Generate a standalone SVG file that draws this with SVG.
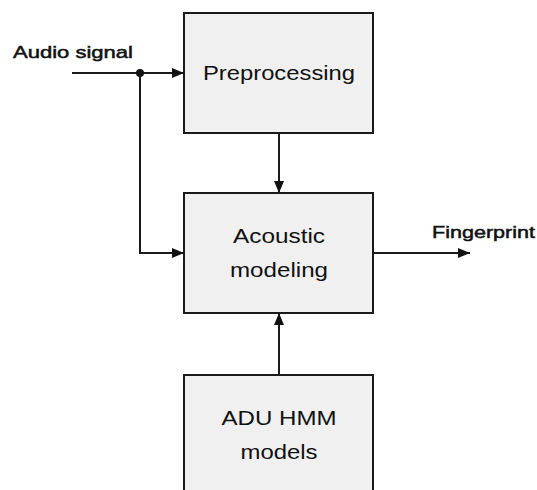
<svg xmlns="http://www.w3.org/2000/svg" width="537" height="490" viewBox="0 0 537 490">
<style>
.box{fill:#f0f0f0;stroke:#1a1a1a;stroke-width:2}
.lbl{font-family:"Liberation Sans",Arial,sans-serif;font-size:21px;fill:#111;text-anchor:middle}
.side{font-family:"Liberation Sans",Arial,sans-serif;font-size:17px;fill:#111;stroke:#111;stroke-width:0.5}
.ln{fill:none;stroke:#1a1a1a;stroke-width:2}
</style>
<defs>
<marker id="ah" viewBox="0 0 12 12" refX="12" refY="6" markerWidth="12" markerHeight="12" markerUnits="userSpaceOnUse" orient="auto">
<path d="M0,1 L12,6 L0,11 Z" fill="#111"/>
</marker>
</defs>
<rect width="537" height="490" fill="#fff"/>
<g id="preprocessing">
<rect class="box" x="184" y="13" width="189" height="120"/>
<text class="lbl" x="279" y="80" textLength="152" lengthAdjust="spacingAndGlyphs">Preprocessing</text>
</g>
<g id="acoustic">
<rect class="box" x="184" y="193" width="189" height="120"/>
<text class="lbl" x="279" y="243" textLength="92" lengthAdjust="spacingAndGlyphs">Acoustic</text>
<text class="lbl" x="279" y="277" textLength="98" lengthAdjust="spacingAndGlyphs">modeling</text>
</g>
<g id="adu">
<rect class="box" x="184" y="375" width="189" height="130"/>
<text class="lbl" x="279" y="425" textLength="115" lengthAdjust="spacingAndGlyphs">ADU HMM</text>
<text class="lbl" x="279" y="459" textLength="77" lengthAdjust="spacingAndGlyphs">models</text>
</g>
<g id="labels">
<text class="side" x="13" y="58" textLength="120" lengthAdjust="spacingAndGlyphs">Audio signal</text>
<text class="side" x="432" y="238" textLength="103" lengthAdjust="spacingAndGlyphs">Fingerprint</text>
</g>
<g id="connectors">
<path class="ln" d="M72,73 H184" marker-end="url(#ah)"/>
<circle cx="140" cy="73" r="4" fill="#111"/>
<path class="ln" d="M140,73 V253 H184" marker-end="url(#ah)"/>
<path class="ln" d="M279,133 V193" marker-end="url(#ah)"/>
<path class="ln" d="M373,253 H470" marker-end="url(#ah)"/>
<path class="ln" d="M279,375 V313" marker-end="url(#ah)"/>
</g>
</svg>
